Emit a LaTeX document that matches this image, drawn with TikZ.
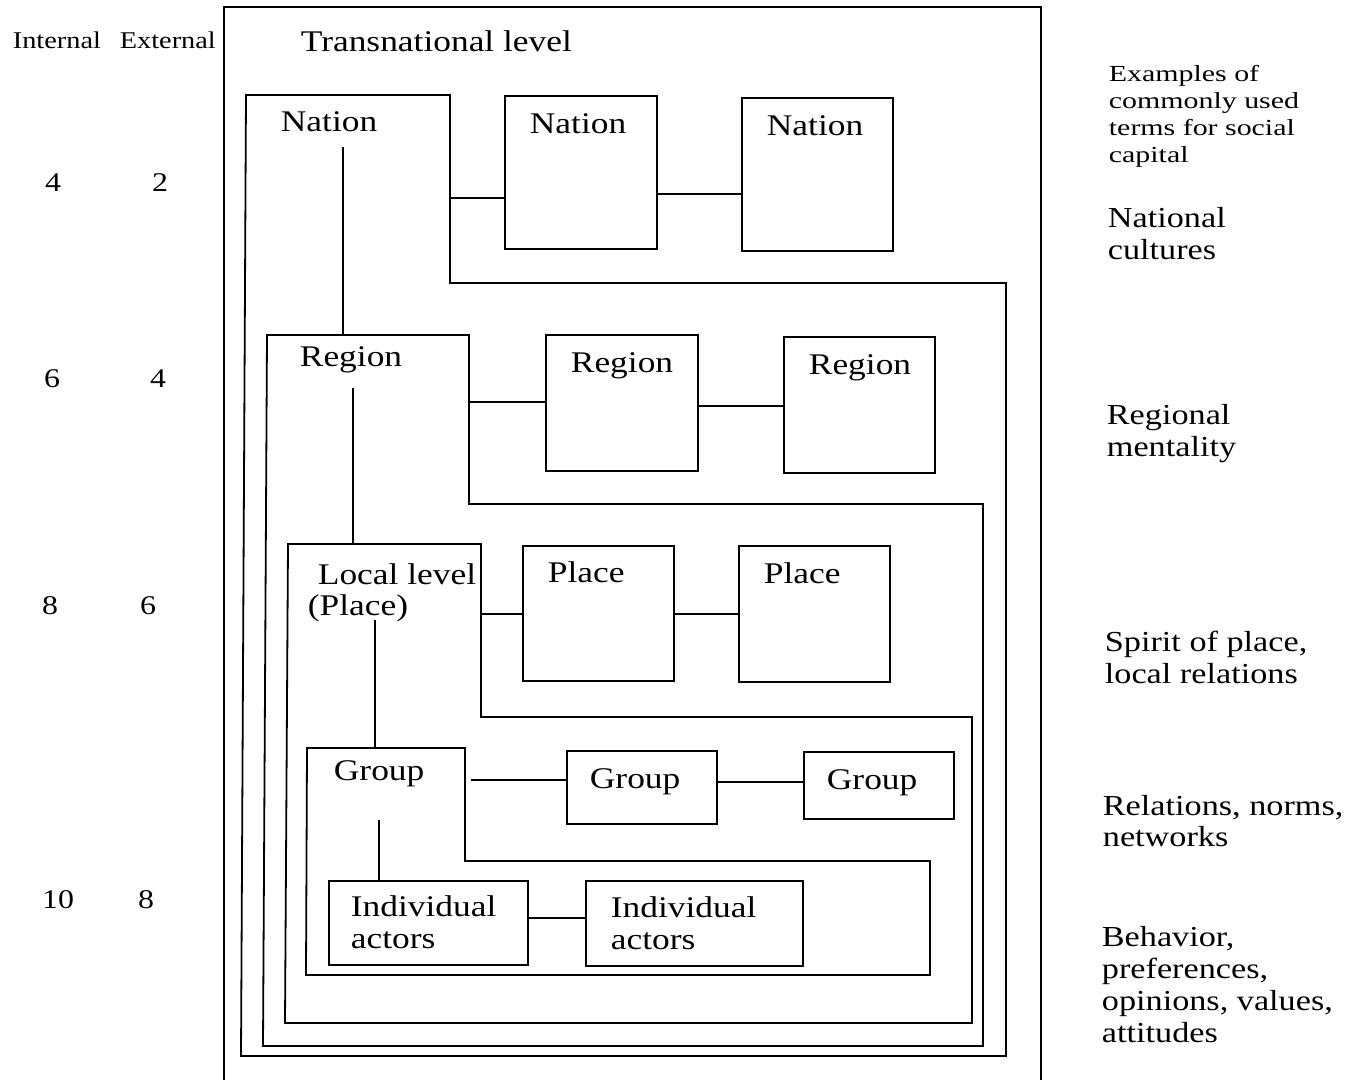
\documentclass[tikz,border=0pt]{standalone}
\usepackage{fontspec}
\newfontfamily\mainf[FakeStretch=1.18]{Liberation Serif}
\newfontfamily\widef[FakeStretch=1.3]{Liberation Serif}
\begin{document}
\begin{tikzpicture}[x=1pt,y=-1pt,
  line width=1.8pt, line join=miter,
  frame/.style={draw=black, line width=1.8pt},
  bx/.style={draw=black, line width=1.8pt, rectangle, anchor=north west, inner sep=0pt},
  link/.style={draw=black, line width=1.6pt},
  lbl/.style={font=\mainf\fontsize{30}{33}\selectfont, inner sep=0pt, anchor=base west},
  side/.style={font=\mainf\fontsize{29}{32}\selectfont, inner sep=0pt, anchor=base west},
  ex/.style={font=\widef\fontsize{23}{27}\selectfont, inner sep=0pt, anchor=base west},
  head/.style={font=\mainf\fontsize{24}{27}\selectfont, inner sep=0pt, anchor=base west},
  num/.style={font=\mainf\fontsize{27}{30}\selectfont, inner sep=0pt, anchor=base}]
\useasboundingbox[fill=white] (0,0) rectangle (1357,1080);

% outer transnational frame (open at the bottom edge of the picture)
\draw[frame] (224,1080) -- (224,7) -- (1041,7) -- (1041,1080);
\node[lbl] (trans) at (300,51) {Transnational level};

% nation container
\draw[frame] (246,95) -- (450,95) -- (450,283) -- (1006,283) -- (1006,1056) -- (241,1056) -- cycle;
% region container
\draw[frame] (267,335) -- (469,335) -- (469,504) -- (983,504) -- (983,1046) -- (263,1046) -- cycle;
% local container
\draw[frame] (288,544) -- (481,544) -- (481,717) -- (972,717) -- (972,1023) -- (285,1023) -- cycle;
% group container
\draw[frame] (307,748) -- (465,748) -- (465,861) -- (930,861) -- (930,975) -- (306,975) -- cycle;

% boxes
\node[bx, minimum width=152pt, minimum height=153pt] (N2) at (504,95) {};
\node[bx, minimum width=151pt, minimum height=153pt] (N3) at (741,97) {};
\node[bx, minimum width=152pt, minimum height=136pt] (R2) at (545,334) {};
\node[bx, minimum width=151pt, minimum height=136pt] (R3) at (783,336) {};
\node[bx, minimum width=151pt, minimum height=135pt] (P2) at (522,545) {};
\node[bx, minimum width=151pt, minimum height=136pt] (P3) at (738,545) {};
\node[bx, minimum width=150pt, minimum height=73pt] (G2) at (566,750) {};
\node[bx, minimum width=150pt, minimum height=67pt] (G3) at (803,751) {};
\node[bx, minimum width=199pt, minimum height=84pt] (I1) at (328,880) {};
\node[bx, minimum width=217pt, minimum height=85pt] (I2) at (585,880) {};

% labels inside
\node[lbl] (n1t) at (280,131) {Nation};
\node[lbl] (n2t) at (529,133) {Nation};
\node[lbl] (n3t) at (766,135) {Nation};
\node[lbl] (r1t) at (299,366) {Region};
\node[lbl] (r2t) at (570,372) {Region};
\node[lbl] (r3t) at (808,374) {Region};
\node[lbl] (l1t) at (317,584) {Local level};
\node[lbl] (l1u) at (307,615) {(Place)};
\node[lbl] (p2t) at (547,582) {Place};
\node[lbl] (p3t) at (763,583) {Place};
\node[lbl] (g1t) at (333,780) {Group};
\node[lbl] (g2t) at (589,788) {Group};
\node[lbl] (g3t) at (826,789) {Group};
\node[lbl] (i1t) at (350,916) {Individual};
\node[lbl] (i1u) at (350,948) {actors};
\node[lbl] (i2t) at (610,917) {Individual};
\node[lbl] (i2u) at (610,949) {actors};

% connector anchors on containers
\coordinate (ncE) at (450,198);
\coordinate (nY) at (0,194);
\coordinate (nDown) at (343,147);
\coordinate (rcTop) at (343,335);
\coordinate (rcE) at (469,402);
\coordinate (rY) at (0,406);
\coordinate (rDown) at (353,388);
\coordinate (lcTop) at (353,544);
\coordinate (lcE) at (481,614);
\coordinate (lDown) at (375,620);
\coordinate (gcTop) at (375,748);
\coordinate (gcE) at (471,780);
\coordinate (gY) at (0,782);
\coordinate (gDown) at (379,820);
\coordinate (iY) at (0,918);

% connectors
\draw[link] (ncE) -- (ncE -| N2.west);
\draw[link] (N2.east |- nY) -- (N3.west |- nY);
\draw[link] (nDown) -- (rcTop);
\draw[link] (rcE) -- (rcE -| R2.west);
\draw[link] (R2.east |- rY) -- (R3.west |- rY);
\draw[link] (rDown) -- (lcTop);
\draw[link] (lcE) -- (lcE -| P2.west);
\draw[link] (P2.east |- lcE) -- (P3.west |- lcE);
\draw[link] (lDown) -- (gcTop);
\draw[link] (gcE) -- (gcE -| G2.west);
\draw[link] (G2.east |- gY) -- (G3.west |- gY);
\draw[link] (gDown) -- (gDown |- I1.north);
\draw[link] (I1.east |- iY) -- (I2.west |- iY);

% left columns
\node[head] (hint) at (12,48) {Internal};
\node[head] (hext) at (119,48) {External};
\node[num] (a1) at (53,191) {4};
\node[num] (b1) at (160,191) {2};
\node[num] (a2) at (52,387) {6};
\node[num] (b2) at (158,387) {4};
\node[num] (a3) at (50,614) {8};
\node[num] (b3) at (148,614) {6};
\node[num] (a4) at (58,908) {10};
\node[num] (b4) at (146,908) {8};

% right column
\node[ex] (e1) at (1108,81) {Examples of};
\node[ex] (e2) at (1108,108) {commonly used};
\node[ex] (e3) at (1108,135) {terms for social};
\node[ex] (e4) at (1108,162) {capital};
\node[side] (s1a) at (1107,227) {National};
\node[side] (s1b) at (1107,259) {cultures};
\node[side] (s2a) at (1106,424) {Regional};
\node[side] (s2b) at (1106,456) {mentality};
\node[side] (s3a) at (1104,651) {Spirit of place,};
\node[side] (s3b) at (1104,683) {local relations};
\node[side] (s4a) at (1102,815) {Relations, norms,};
\node[side] (s4b) at (1102,846) {networks};
\node[side] (s5a) at (1101,946) {Behavior,};
\node[side] (s5b) at (1101,978) {preferences,};
\node[side] (s5c) at (1101,1010) {opinions, values,};
\node[side] (s5d) at (1101,1042) {attitudes};
\end{tikzpicture}
\end{document}
